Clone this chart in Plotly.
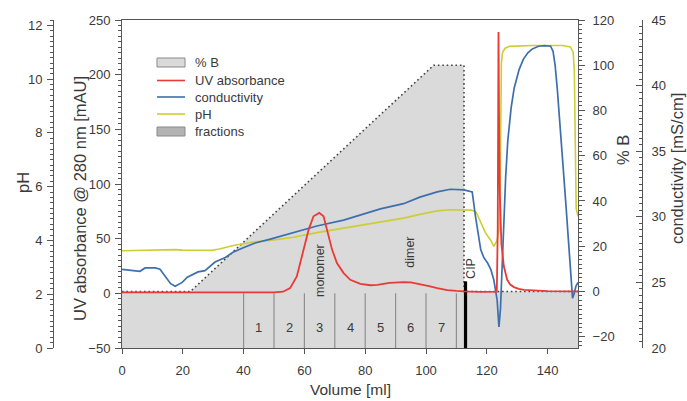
import plotly.graph_objects as go

# ---------------- data ----------------
# UV absorbance at 280 nm (mAU) against elution volume (ml)
UV_VOLUME = [0, 10, 20, 30, 40, 50, 53, 55.3, 57.5, 58.6, 59.7, 61.4, 63, 64.9, 66.3,
             67.4, 69.1, 70.7, 72.9, 75.1, 78.4, 81.7, 84, 88, 92.7, 95, 98.2, 101,
             103.7, 107, 110, 112.4, 118, 121.3, 123.3, 123.6, 123.85, 124.05, 124.3,
             124.8, 125.6, 126.7, 127.7, 128.9, 130.5, 132.2, 136, 140, 150]
UV_MAU = [0.8, 0.8, 0.6, 0.6, 0.6, 0.8, 1.5, 4.8, 15.4, 27.7, 41.5, 58.3, 70.5, 73.6, 70.5,
          58.3, 40, 27.7, 18.5, 12.4, 8.7, 7.4, 7.8, 9.5, 10.3, 10.0, 8.4, 6.5,
          4.8, 3.0, 2.2, 1.7, 1.4, 1.3, 1.6, 60, 239, 150, 90,
          45, 25, 12.4, 8, 5.7, 4.0, 3.2, 2.3, 2.0, 1.7]

# Conductivity (mS/cm)
COND_VOLUME = [0, 3, 5.9, 7.6, 10.9, 12.5, 14.5, 16, 17.5, 19.8, 21.5, 23, 25, 27.3, 29,
               30.6, 34, 36.5, 39.5, 43.8, 48.8, 56.4, 64.1, 72.9, 81.7, 85, 92.6, 98,
               103.7, 108, 112.4, 115.2, 116.3, 117, 118, 119, 120.2, 121.3, 122.3,
               123.4, 124.0, 124.5, 125.1, 125.6, 126.2, 126.9, 128, 129, 130.6, 132,
               133.5, 135, 137, 139, 141, 141.8, 142.5, 143.2, 144.3, 145.2, 146, 146.6,
               147.1, 147.6, 148.2, 148.8, 149.3, 150]
COND_MS = [26.0, 25.95, 25.85, 26.1, 26.1, 26.0, 25.4, 24.9, 24.7, 25.0, 25.4, 25.6, 25.8,
           25.9, 26.2, 26.55, 26.9, 27.3, 27.6, 28.0, 28.3, 28.8, 29.3, 29.75, 30.4, 30.6,
           31.0, 31.5, 31.9, 32.1, 32.05, 31.9, 30.0, 28.8, 27.5, 26.9, 26.5, 26.0, 25.2,
           23.66, 21.6, 23.0, 26.5, 30.0, 33.0, 35.8, 38.3, 39.8, 41.2, 42.0, 42.5, 42.8,
           43.0, 43.05, 43.0, 42.6, 41.5, 39.7, 36.6, 33.5, 31.0, 29.0, 27.2, 25.3, 23.8,
           24.2, 24.7, 25.0]

# pH
PH_VOLUME = [0, 5, 10, 15, 17.5, 20, 25, 29.5, 32, 34, 37, 39.4, 43.8, 50, 56.4, 64.1,
             70, 75, 81.7, 85, 92.6, 98, 103.7, 108, 112.4, 115, 116.5, 117.5, 118.5,
             119.5, 121.3, 122.3, 123.4, 124.0, 124.4, 124.6, 124.8, 125.2, 126, 127.5,
             135, 145, 147.5, 148.4, 148.8, 149.0, 149.2, 149.4, 150]
PH = [3.62, 3.63, 3.64, 3.66, 3.66, 3.64, 3.63, 3.63, 3.68, 3.74, 3.82, 3.87, 3.95, 4.02,
      4.12, 4.29, 4.4, 4.5, 4.6, 4.67, 4.83, 4.97, 5.10, 5.14, 5.14, 5.13, 5.05, 4.8, 4.52,
      4.3, 4.0, 3.78, 4.0, 4.4, 6.0, 9.0, 10.6, 11.0, 11.15, 11.22,
      11.25, 11.25, 11.2, 11.0, 10.3, 8.5, 6.5, 5.2, 4.9]

# Buffer B gradient (%)
GRADIENT_VOLUME = [0, 22.5, 102.5, 112.5, 112.5, 150]
GRADIENT_B = [0, 0, 100, 100, 0, 0]

# Collected fractions
FRACTION_EDGES = [40, 50, 60, 70, 80, 90, 100, 110]
FRACTION_LABELS = ["1", "2", "3", "4", "5", "6", "7"]
FRACTION_TOP_MAU = 0

# Start of cleaning-in-place
CIP_VOLUME = 113
CIP_TOP_MAU = 11

# Peak notes: text, volume, UV level
NOTES = [("monomer", 65.2, 20.6), ("dimer", 94.9, 37.6), ("CIP", 114.7, 23)]

X_TICKS = [0, 20, 40, 60, 80, 100, 120, 140]

# ---------------- styling ----------------
X_RANGE = [0, 150]
UV_RANGE = [-50, 250]
PH_RANGE = [0, 12.2]
B_RANGE = [-25, 120]
COND_RANGE = [20, 45]

RED = "#ea3a35"
BLUE = "#3d6fae"
YELLOW = "#cdcd36"
GREY_FILL = "#dadada"
FRACTION_GREY = "#b3b3b3"
FRACTION_LINE = "#8f8f8f"
AXIS = "#555555"
TEXT = "#3a3a3a"
FONT = "Liberation Sans, Arial, sans-serif"

W, H = 687, 401
PAPER_LEFT, PAPER_RIGHT = 53, 642        # pixel span of the paper (outer axes)
PLOT_LEFT, PLOT_RIGHT = 122, 578         # pixel span of the data area
PLOT_TOP, PLOT_BOTTOM = 20, 348


def px_x(px):
    return (px - PAPER_LEFT) / (PAPER_RIGHT - PAPER_LEFT)


def px_y(py):
    return (PLOT_BOTTOM - py) / (PLOT_BOTTOM - PLOT_TOP)


fig = go.Figure()

# %B gradient: grey area down to the axis floor, dotted outline
fig.add_trace(go.Scatter(x=[X_RANGE[0], X_RANGE[1]], y=[B_RANGE[0], B_RANGE[0]],
                         mode="lines", line=dict(width=0), yaxis="y",
                         showlegend=False, hoverinfo="skip"))
fig.add_trace(go.Scatter(x=GRADIENT_VOLUME, y=GRADIENT_B, mode="lines", fill="tonexty",
                         fillcolor=GREY_FILL, yaxis="y", name="% B",
                         line=dict(color="#444444", width=1.6, dash="1.6px,2.8px"),
                         showlegend=False))

# fraction boundaries
fx, fy = [], []
for e in FRACTION_EDGES:
    fx += [e, e, None]
    fy += [UV_RANGE[0], FRACTION_TOP_MAU, None]
fig.add_trace(go.Scatter(x=fx, y=fy, mode="lines", yaxis="y2", name="fractions",
                         line=dict(color=FRACTION_LINE, width=1.2), showlegend=False))

# CIP marker
fig.add_trace(go.Scatter(x=[CIP_VOLUME, CIP_VOLUME], y=[UV_RANGE[0], CIP_TOP_MAU],
                         mode="lines", yaxis="y2", line=dict(color="black", width=3.2),
                         showlegend=False))

fig.add_trace(go.Scatter(x=PH_VOLUME, y=PH, mode="lines", yaxis="y3", name="pH",
                         line=dict(color=YELLOW, width=1.6), showlegend=False))
fig.add_trace(go.Scatter(x=COND_VOLUME, y=COND_MS, mode="lines", yaxis="y4",
                         name="conductivity", line=dict(color=BLUE, width=1.7),
                         showlegend=False))
fig.add_trace(go.Scatter(x=UV_VOLUME, y=UV_MAU, mode="lines", yaxis="y5",
                         name="UV absorbance", line=dict(color=RED, width=1.8),
                         showlegend=False))

tick_font = dict(family=FONT, size=13, color=TEXT)
common = dict(showgrid=False, zeroline=False, showline=True, linecolor=AXIS, linewidth=1,
              tickcolor=AXIS, ticklen=6, tickwidth=1, tickfont=tick_font,
              automargin=False)

fig.update_layout(
    width=W, height=H,
    margin=dict(l=PAPER_LEFT, r=W - PAPER_RIGHT, t=PLOT_TOP, b=H - PLOT_BOTTOM),
    paper_bgcolor="white", plot_bgcolor="white",
    font=dict(family=FONT, size=13, color=TEXT),
    showlegend=False,
    xaxis=dict(domain=[px_x(PLOT_LEFT), px_x(PLOT_RIGHT)], range=X_RANGE,
               tickvals=X_TICKS, ticks="outside", ticklen=5, mirror=True,
               ticklabelstandoff=5, **{k: v for k, v in common.items() if k != "ticklen"}),
    yaxis=dict(range=B_RANGE, side="right", anchor="x", dtick=20, ticks="outside",
               ticklabelstandoff=5,
               minor=dict(dtick=2, ticks="outside", ticklen=3, tickcolor=AXIS), **common),
    yaxis2=dict(range=UV_RANGE, side="left", anchor="x", overlaying="y", dtick=50,
                ticks="outside", ticklabelstandoff=2,
                minor=dict(dtick=5, ticks="outside", ticklen=3, tickcolor=AXIS), **common),
    yaxis3=dict(range=PH_RANGE, side="left", anchor="free", position=0, overlaying="y",
                dtick=2, ticks="outside", ticklabelstandoff=2,
                minor=dict(dtick=0.2, ticks="outside", ticklen=3, tickcolor=AXIS), **common),
    yaxis4=dict(range=COND_RANGE, side="right", anchor="free", position=1, overlaying="y",
                dtick=5, ticks="inside", ticklabelstandoff=6,
                minor=dict(dtick=0.5, ticks="inside", ticklen=3, tickcolor=AXIS), **common),
    yaxis5=dict(range=UV_RANGE, overlaying="y", anchor="x", visible=False),
)

annotations = []
title_font = dict(family=FONT, size=16.5, color=TEXT)
# axis titles
annotations += [
    dict(text="pH", x=px_x(23), y=px_y(183), textangle=-90, font=title_font),
    dict(text="UV absorbance @ 280 nm [mAU]", x=px_x(80), y=px_y(199), textangle=-90,
         font=title_font),
    dict(text="% B", x=px_x(623), y=px_y(150), textangle=-90, font=title_font),
    dict(text="conductivity [mS/cm]", x=px_x(677), y=px_y(169), textangle=-90,
         font=title_font),
    dict(text="Volume [ml]", x=px_x((PLOT_LEFT + PLOT_RIGHT) / 2), y=px_y(390),
         font=dict(family=FONT, size=15.5, color=TEXT)),
]
for a in annotations:
    a.update(xref="paper", yref="paper", showarrow=False, xanchor="center",
             yanchor="middle")

# fraction numbers
for lo, hi, lab in zip(FRACTION_EDGES[:-1], FRACTION_EDGES[1:], FRACTION_LABELS):
    annotations.append(dict(text=lab, x=(lo + hi) / 2, y=-31.6, xref="x", yref="y2",
                            showarrow=False, font=dict(family=FONT, size=13, color=TEXT)))
# peak notes
for txt, vx, vy in NOTES:
    annotations.append(dict(text=txt, x=vx, y=vy, xref="x", yref="y2", textangle=-90,
                            showarrow=False, font=dict(family=FONT, size=12.5, color=TEXT)))

# legend (drawn as shapes + labels)
LEGEND = [("% B", "box", GREY_FILL), ("UV absorbance", "line", RED),
          ("conductivity", "line", BLUE), ("pH", "line", YELLOW),
          ("fractions", "box", FRACTION_GREY)]
LEGEND_ROWS = [62.5, 80.5, 97, 114, 131.5]
shapes = []
for (name, kind, color), row in zip(LEGEND, LEGEND_ROWS):
    if kind == "box":
        shapes.append(dict(type="rect", xref="paper", yref="paper",
                           x0=px_x(157), x1=px_x(185), y0=px_y(row + 4.5), y1=px_y(row - 4.5),
                           fillcolor=color, line=dict(color="#8a8a8a", width=1)))
    else:
        shapes.append(dict(type="line", xref="paper", yref="paper",
                           x0=px_x(157), x1=px_x(185), y0=px_y(row), y1=px_y(row),
                           line=dict(color=color, width=1.6)))
    annotations.append(dict(text=name, x=px_x(193), y=px_y(row), xref="paper",
                            yref="paper", xanchor="left", yanchor="middle",
                            showarrow=False, font=dict(family=FONT, size=13, color=TEXT)))

fig.update_layout(annotations=annotations, shapes=shapes)

fig.write_html("out.html")
